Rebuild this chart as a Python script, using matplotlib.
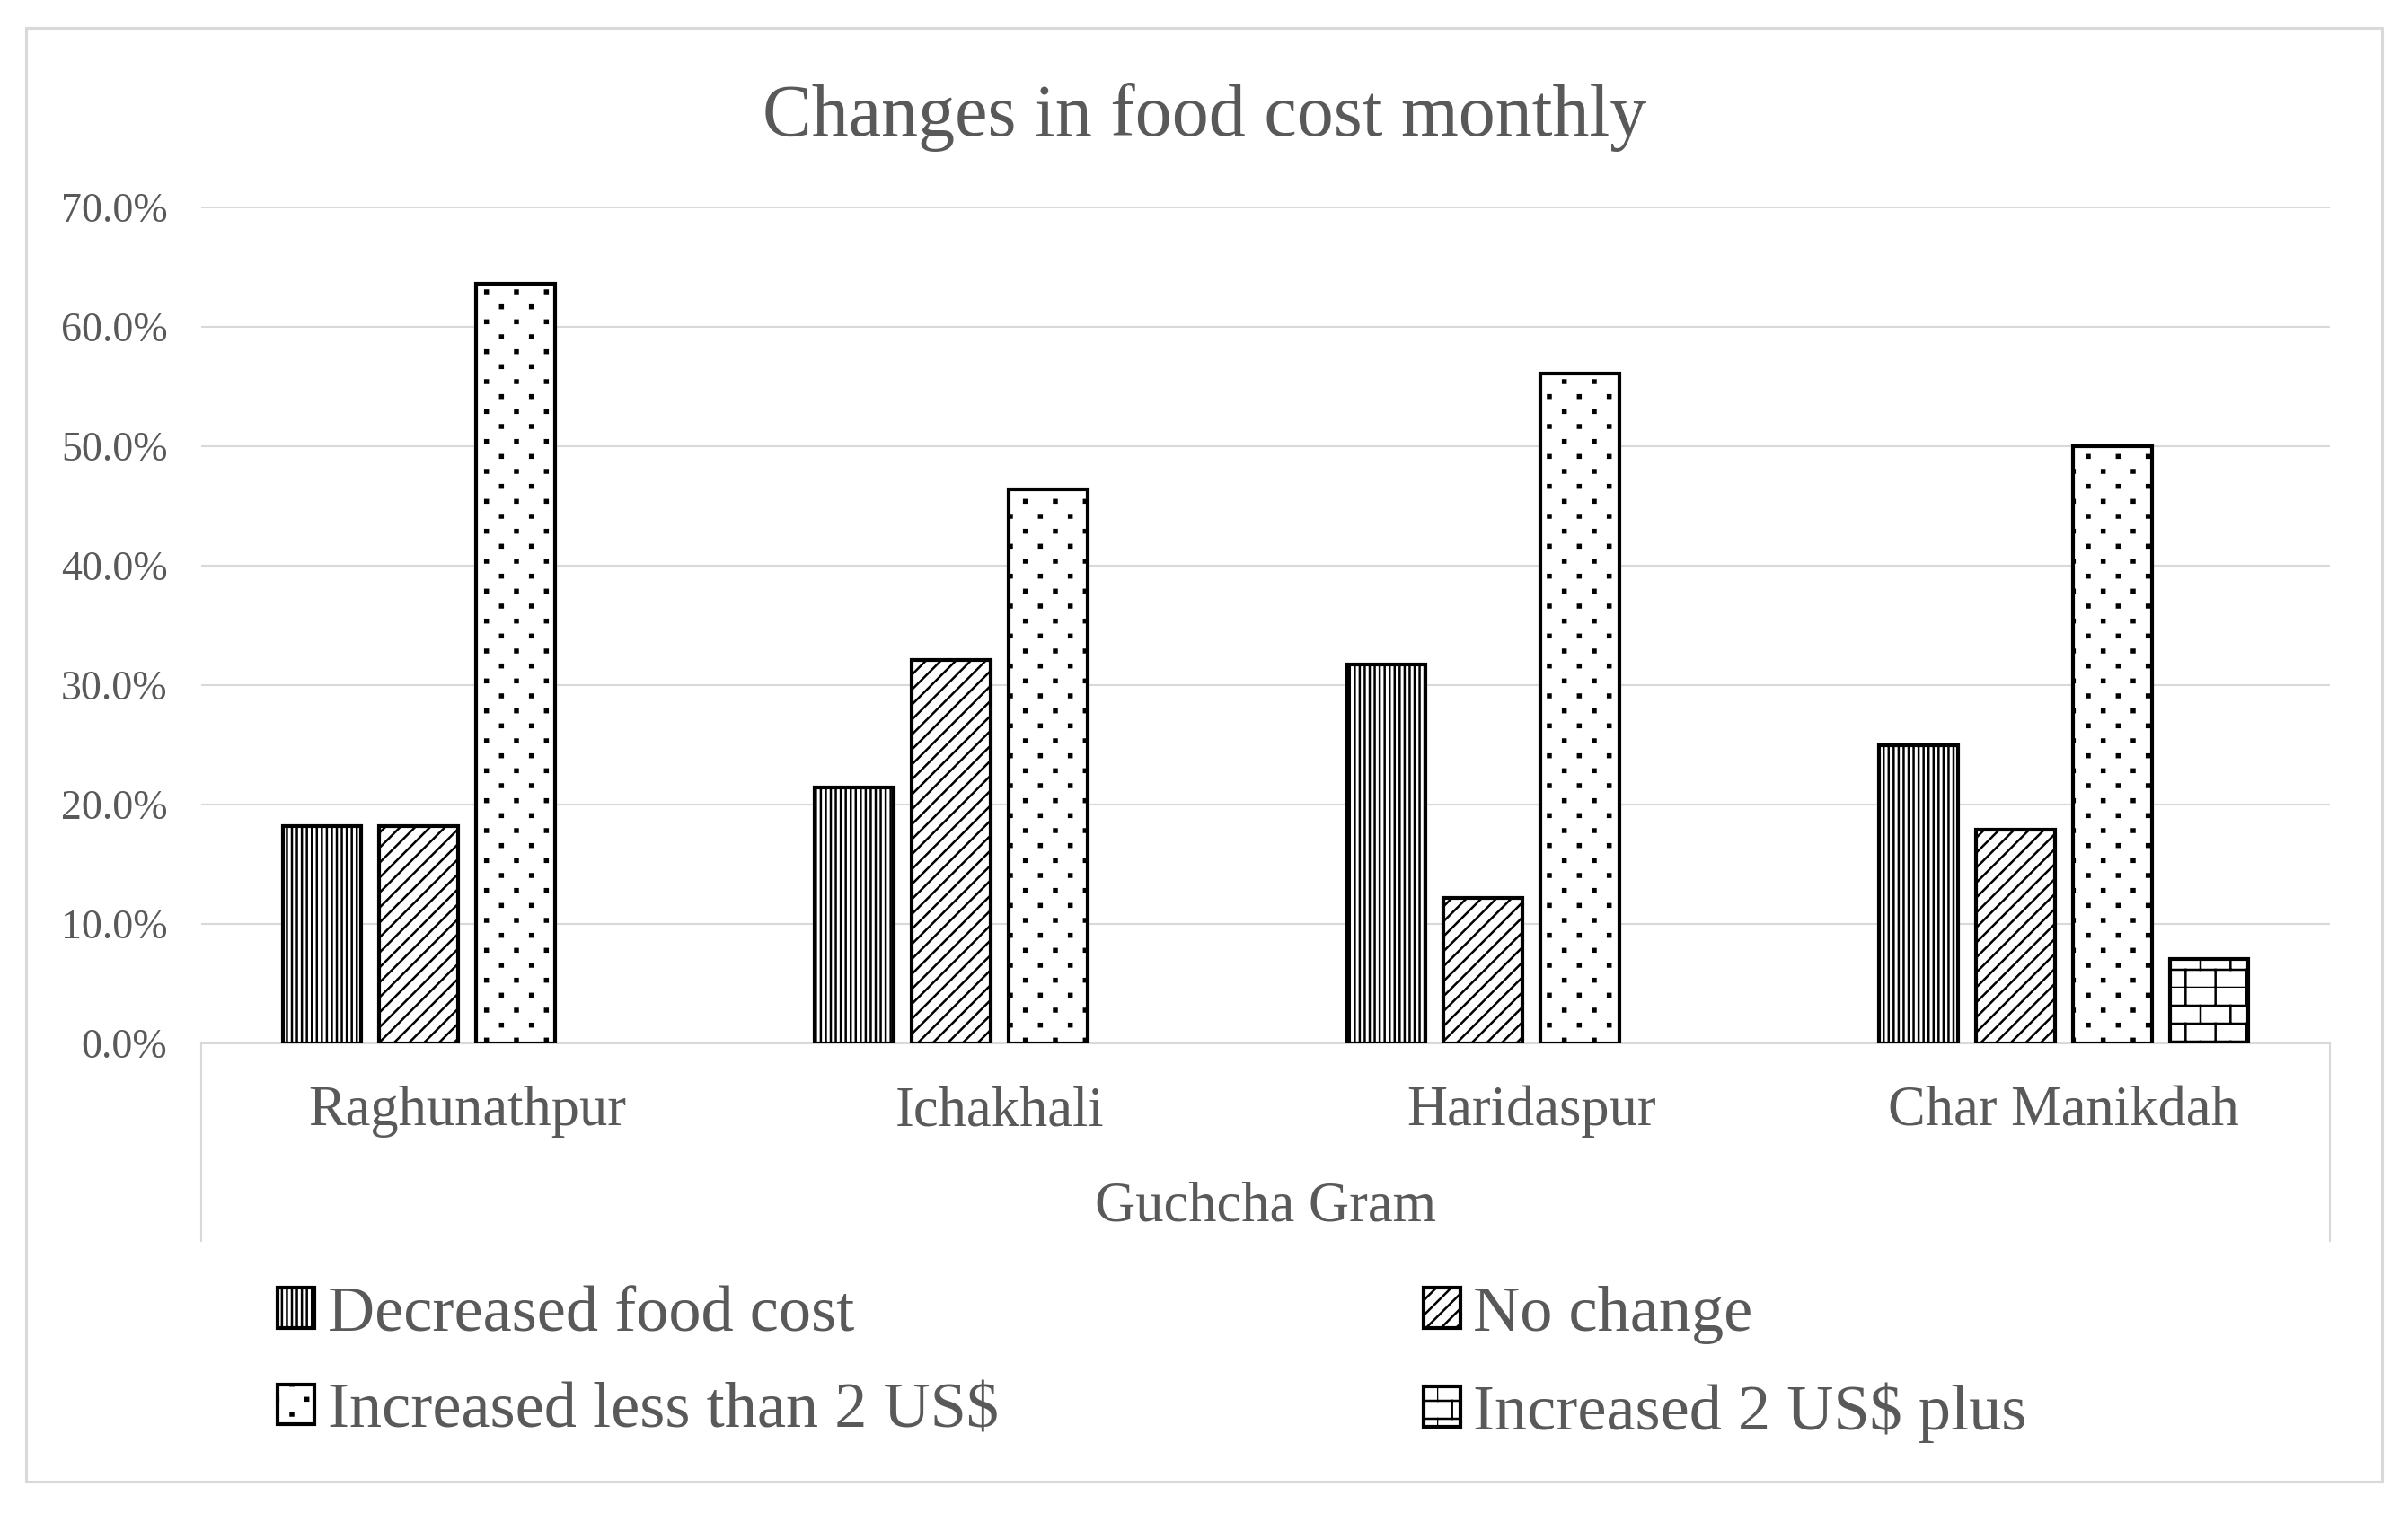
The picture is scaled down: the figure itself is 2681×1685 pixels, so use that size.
import numpy as np
import matplotlib
matplotlib.use('Agg')
import matplotlib.pyplot as plt
import matplotlib.hatch as mhatch
from matplotlib.path import Path
from matplotlib.patches import Rectangle
from matplotlib.lines import Line2D

# ---------------- data ----------------
categories = ['Raghunathpur', 'Ichakhali', 'Haridaspur', 'Char Manikdah']
series_names = ['Decreased food cost', 'No change',
                'Increased less than 2 US$', 'Increased 2 US$ plus']
decreased_food_cost = [18.2, 21.4, 31.7, 25.0]
no_change = [18.2, 32.1, 12.2, 17.9]
increased_less_than_2 = [63.6, 46.4, 56.1, 50.0]
increased_2_plus = [0.0, 0.0, 0.0, 7.1]
y_ticks = [0, 10, 20, 30, 40, 50, 60, 70]
title_text = 'Changes in food cost monthly'
axis_title = 'Guchcha Gram'

# ---------------- custom hatch patterns ----------------
class BrickHatch(mhatch.HatchPatternBase):
    rows = 5
    cols = 3

    def __init__(self, hatch, density):
        on = 'B' in hatch
        self.num_vertices = 2 * (self.rows + self.rows * self.cols) if on else 0

    def set_vertices_and_codes(self, vertices, codes):
        h = 1.0 / self.rows
        w = 1.0 / self.cols
        k = 0
        for r in range(self.rows):
            y0 = r * h
            vertices[k] = (0.0, y0)
            vertices[k + 1] = (1.0, y0)
            k += 2
            shift = 0.0 if r % 2 == 0 else w / 2
            for c in range(self.cols):
                x = c * w + shift
                vertices[k] = (x, y0)
                vertices[k + 1] = (x, y0 + h)
                k += 2
        codes[0::2] = Path.MOVETO
        codes[1::2] = Path.LINETO


class ConfettiHatch(mhatch.HatchPatternBase):
    rows = 6
    cols = 3
    size = 0.03

    def __init__(self, hatch, density):
        on = 'D' in hatch
        self.num_vertices = self.rows * self.cols * 5 if on else 0

    def set_vertices_and_codes(self, vertices, codes):
        s = self.size / 2
        sq = np.array([[-s, -s], [s, -s], [s, s], [-s, s], [-s, -s]])
        k = 0
        for r in range(self.rows):
            y = (r + 0.5) / self.rows
            shift = 0.0 if r % 2 == 0 else 0.5 / self.cols
            for c in range(self.cols):
                x = (c + 0.25) / self.cols + shift
                vertices[k:k + 5] = sq + np.array([x, y])
                codes[k:k + 5] = [Path.MOVETO, Path.LINETO, Path.LINETO,
                                  Path.LINETO, Path.CLOSEPOLY]
                k += 5


mhatch._hatch_types.append(BrickHatch)
mhatch._hatch_types.append(ConfettiHatch)
mhatch._validate_hatch_pattern = lambda h: None

# ---------------- style ----------------
plt.rcParams['font.family'] = ['Liberation Serif', 'DejaVu Serif']
plt.rcParams['hatch.color'] = 'black'
plt.rcParams['hatch.linewidth'] = 1.8
TEXT = '#595959'
GRID = '#d9d9d9'

W, H = 2681, 1685
fig = plt.figure(figsize=(W / 100, H / 100), dpi=100)
fig.patch.set_facecolor('white')

# outer chart border
fig.add_artist(Rectangle((29 / W, 1 - 1650 / H), (2652 - 29) / W, (1650 - 31) / H,
                         transform=fig.transFigure, facecolor='none',
                         edgecolor=GRID, linewidth=2.2))

# axes placement (pixels)
left_px, right_px, zero_px, top70_px = 224, 2594, 1162, 231
ppu = (zero_px - top70_px) / 70.0
ytop = 70.3
top_px = zero_px - ytop * ppu
ax = fig.add_axes([left_px / W, 1 - zero_px / H, (right_px - left_px) / W,
                   (zero_px - top_px) / H])
ax_h_px = zero_px - top_px

series = [decreased_food_cost, no_change, increased_less_than_2, increased_2_plus]
hatches = ['|||', '//', 'D', 'B']
bar_w = 0.148
pitch = 0.182
xs = np.arange(len(categories))
for i, (vals, name, hatch) in enumerate(zip(series, series_names, hatches)):
    v = np.array(vals, dtype=float)
    v = np.where(v > 0, v, np.nan)
    ax.bar(xs + (i - 1.5) * pitch, v, bar_w, facecolor='white',
           edgecolor='black', linewidth=3.0, hatch=hatch, label=name, zorder=3)

ax.set_xlim(-0.5, len(categories) - 0.5)
ax.set_ylim(0, ytop)
ax.set_yticks(y_ticks, [f'{t:.1f}%' for t in y_ticks])
ax.yaxis.grid(True, color=GRID, linewidth=1.5)
ax.set_axisbelow(True)
for s in ['left', 'right', 'top']:
    ax.spines[s].set_visible(False)
ax.spines['bottom'].set_color(GRID)
ax.spines['bottom'].set_linewidth(1.5)
ax.spines['bottom'].set_zorder(2)
ax.tick_params(axis='both', length=0, labelcolor=TEXT)
ax.tick_params(axis='y', pad=27, labelsize=33)
ax.set_xticks(xs, categories, va='baseline', fontsize=45)
ax.tick_params(axis='x', pad=(1253 - zero_px) * 0.72)

ax.set_xlabel(axis_title, fontsize=45, color=TEXT, va='baseline')
ax.xaxis.set_label_coords(0.5, -(1359 - zero_px) / ax_h_px)

# category axis side dividers
depth = -(1382 - zero_px) / ax_h_px
for xa in (0.0, 1.0):
    ax.add_line(Line2D([xa, xa], [0, depth], transform=ax.transAxes,
                       color=GRID, linewidth=1.5, clip_on=False))

# title
fig.text(1341 / W, 1 - 151 / H, title_text, fontsize=59, color=TEXT,
         ha='center', va='baseline')

# legend (row-wise order)
handles, labels = ax.get_legend_handles_labels()
order = [0, 2, 1, 3]
fig.legend([handles[i] for i in order], [labels[i] for i in order], ncol=2,
           loc='upper left', bbox_to_anchor=(309 / W, 1 - 1432 / H),
           bbox_transform=fig.transFigure, frameon=False, borderpad=0,
           borderaxespad=0, handlelength=0.57, handleheight=0.57,
           handletextpad=0.2, columnspacing=6.55, labelspacing=0.59,
           fontsize=52, labelcolor=TEXT)

fig.savefig('out.png', dpi=100, facecolor='white')
